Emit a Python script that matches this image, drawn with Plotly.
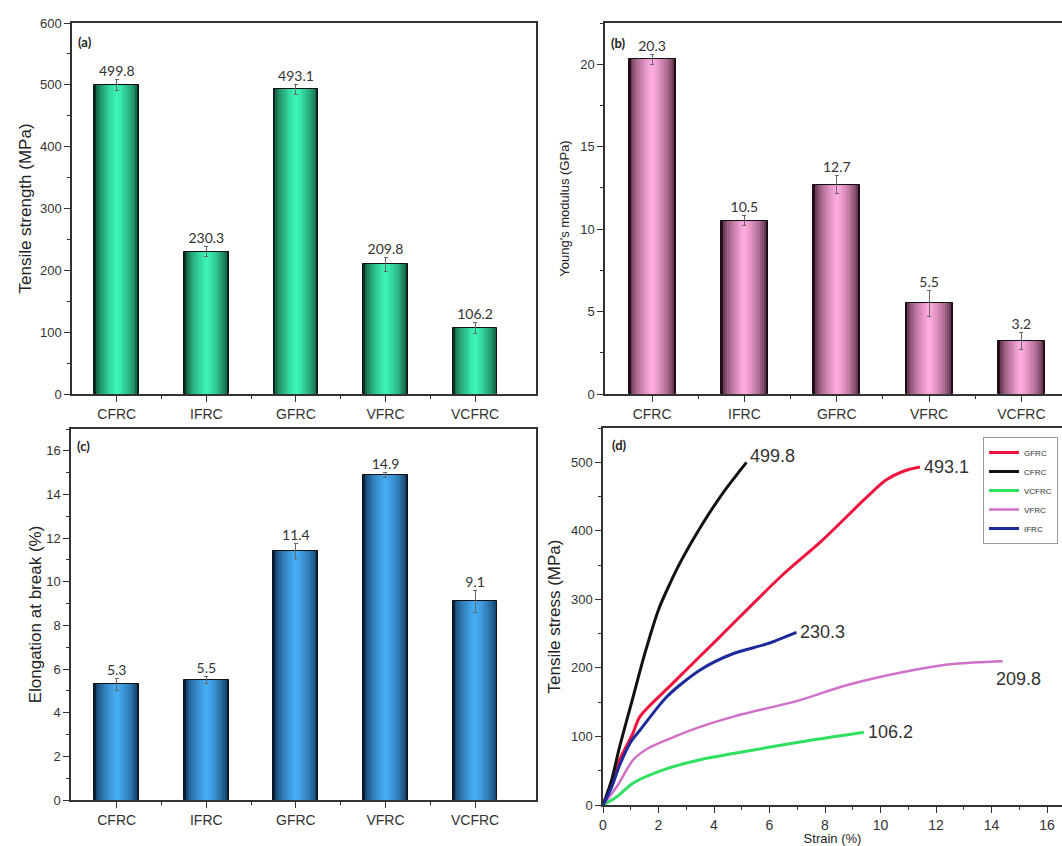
import plotly.graph_objects as go

# ---------------- data ----------------
categories = ["CFRC", "IFRC", "GFRC", "VFRC", "VCFRC"]
tensile_strength = [499.8, 230.3, 493.1, 209.8, 106.2]
tensile_err = [9, 8, 8, 11, 9]
youngs_modulus = [20.3, 10.5, 12.7, 5.5, 3.2]
youngs_err = [0.3, 0.3, 0.55, 0.8, 0.5]
elongation = [5.3, 5.5, 11.4, 14.9, 9.1]
elongation_err = [0.27, 0.15, 0.35, 0.1, 0.5]

# stress-strain curves (strain %, stress MPa)
gfrc_strain = [0, 0.3, 0.6, 1.08, 1.33, 2.5, 4.2, 6.4, 7.9, 9.4, 10.2, 10.9, 11.42]
gfrc_stress = [0, 30, 66, 105, 129, 177, 245, 333, 386, 445, 474, 488, 493.1]
cfrc_strain = [0, 0.3, 0.6, 1.1, 1.5, 2.0, 2.4, 2.8, 3.6, 4.3, 5.17]
cfrc_stress = [0, 35, 85, 160, 220, 285, 322, 355, 411, 454, 499.8]
vcfrc_strain = [0, 0.5, 1.09, 2.3, 3.5, 4.7, 7.1, 9.4]
vcfrc_stress = [0, 12, 32, 53, 66, 75, 92, 106.2]
vfrc_strain = [0, 0.5, 1.09, 1.6, 2.3, 3.5, 4.7, 7.1, 8.8, 11.2, 12.7, 14.4]
vfrc_stress = [0, 27, 66, 82, 95, 114, 129, 153, 175, 197, 206, 209.8]
ifrc_strain = [0, 0.3, 0.6, 1.0, 1.33, 2.3, 3.5, 4.7, 5.9, 6.97]
ifrc_stress = [0, 25, 58, 92, 109, 158, 197, 221, 235, 252]

# ---------------- helpers ----------------
W, H = 1062, 846
AX = "#333333"
TXT = "#333333"


def hex2rgb(h):
    h = h.lstrip("#")
    return tuple(int(h[i:i + 2], 16) for i in (0, 2, 4))


def mix(c1, c2, f):
    a, b = hex2rgb(c1), hex2rgb(c2)
    return "rgb(%d,%d,%d)" % tuple(round(a[i] + (b[i] - a[i]) * f) for i in range(3))


xpos = list(range(len(categories)))
fig = go.Figure()


def gradient_bars(vals, errs, dark, bright, xa, ya, width=0.5, n=12):
    for k in range(n):
        f = (k / (n - 1)) ** 0.5
        w = width * (1 - k / n)
        last = k == n - 1
        fig.add_trace(go.Bar(
            x=xpos, y=vals, width=w, xaxis=xa, yaxis=ya,
            marker=dict(color=mix(dark, bright, f),
                        line=dict(width=1 if k == 0 else 0, color="#111111")),
            showlegend=False, hoverinfo="skip" if not last else None,
            error_y=dict(type="data", array=errs, color="#666666",
                         thickness=1, width=2) if last else None,
        ))
    fig.add_trace(go.Scatter(
        x=xpos, y=[v + e for v, e in zip(vals, errs)], xaxis=xa, yaxis=ya,
        mode="text", text=["%.1f" % v for v in vals],
        textposition="top center",
        textfont=dict(family="Lato", size=14, color=TXT),
        showlegend=False, hoverinfo="skip"))


gradient_bars(tensile_strength, tensile_err, "#06301e", "#3cf5b4", "x", "y")
gradient_bars(youngs_modulus, youngs_err, "#2a0a1c", "#ffaade", "x2", "y2", width=0.51)
gradient_bars(elongation, elongation_err, "#061f3c", "#46acf4", "x3", "y3")

# ---------------- panel (d) curves ----------------
curves = [
    ("GFRC", gfrc_strain, gfrc_stress, "#f0143c", 3),
    ("CFRC", cfrc_strain, cfrc_stress, "#111111", 3),
    ("VCFRC", vcfrc_strain, vcfrc_stress, "#30e060", 3),
    ("VFRC", vfrc_strain, vfrc_stress, "#d070c8", 2.5),
    ("IFRC", ifrc_strain, ifrc_stress, "#1c2a9c", 3),
]
for name, sx, sy, col, lw in curves:
    fig.add_trace(go.Scatter(x=sx, y=sy, mode="lines", name=name,
                             line=dict(color=col, width=lw, shape="spline", smoothing=0.8),
                             xaxis="x4", yaxis="y4"))

# end-of-curve labels (values from tensile strength data)
end_labels = {
    "CFRC": dict(xshift=2, yshift=6, xanchor="left"),
    "GFRC": dict(xshift=2, yshift=0, xanchor="left"),
    "IFRC": dict(xshift=2, yshift=0, xanchor="left"),
    "VFRC": dict(xshift=16, yshift=-18, xanchor="center"),
    "VCFRC": dict(xshift=2, yshift=0, xanchor="left"),
}
for name, sx, sy, col, lw in curves:
    idx = categories.index(name)
    o = end_labels[name]
    fig.add_annotation(x=sx[-1], y=sy[-1], xref="x4", yref="y4",
                       text="%.1f" % tensile_strength[idx], showarrow=False,
                       xanchor=o["xanchor"], yanchor="middle",
                       xshift=o["xshift"], yshift=o["yshift"],
                       font=dict(family="Liberation Sans, Arial", size=18, color=TXT))

# panel letters
for lab, xr, yr, xv, yv in [("(a)", "x", "y", -0.46, 570), ("(b)", "x2", "y2", -0.47, 21.3),
                             ("(c)", "x3", "y3", -0.47, 16.2), ("(d)", "x4", "y4", 0.25, 525)]:
    fig.add_annotation(x=xv, y=yv, xref=xr, yref=yr, text="<b>%s</b>" % lab,
                       showarrow=False, xanchor="left", yanchor="middle",
                       font=dict(family="Lato", size=13, color="#222222"))


def px_x(a, b):
    return [a / W, min(b / W, 1.0)]


def px_y(top, bottom):
    return [(H - bottom) / H, (H - top) / H]


tickfont = dict(family="Liberation Sans, Arial", size=13, color=TXT)
catfont = dict(family="Liberation Sans, Arial", size=14, color=TXT)


def cat_xaxis(domain, anchor, rng):
    return dict(domain=domain, anchor=anchor, range=rng, tickmode="array",
                tickvals=xpos, ticktext=categories, tickfont=catfont, automargin=False,
                showline=True, linecolor=AX, linewidth=1.5, mirror=True,
                ticks="outside", ticklen=6, tickcolor=AX, showgrid=False, zeroline=False,
                minor=dict(tickvals=[i + 0.5 for i in xpos[:-1]], ticks="outside",
                           ticklen=3, tickcolor=AX))


def val_yaxis(domain, anchor, rng, dtick, mdtick, title, tsize, standoff, mirror=True):
    return dict(domain=domain, anchor=anchor, range=rng, dtick=dtick, tick0=0,
                tickfont=tickfont, showline=True, linecolor=AX, linewidth=1.5,
                mirror=mirror, ticks="outside", ticklen=6, tickcolor=AX,
                showgrid=False, zeroline=False, automargin=False,
                minor=dict(dtick=mdtick, tick0=0, ticks="outside", ticklen=3, tickcolor=AX),
                title=dict(text=title, standoff=standoff,
                           font=dict(family="Liberation Sans, Arial", size=tsize, color="#222222")))


fig.update_layout(
    width=W, height=H, margin=dict(l=0, r=0, t=0, b=0, autoexpand=False),
    paper_bgcolor="white", plot_bgcolor="white",
    barmode="overlay", bargap=0,
    xaxis=cat_xaxis(px_x(72, 536), "y", [-0.5, 4.68]),
    yaxis=val_yaxis(px_y(23, 394), "x", [0, 600], 100, 50, "Tensile strength (MPa)", 17, 4),
    xaxis2=cat_xaxis(px_x(605, 1062), "y2", [-0.51, 4.44]),
    yaxis2=val_yaxis(px_y(23, 394), "x2", [0, 22.5], 5, 2.5, "Young's modulus (GPa)", 13, 8),
    xaxis3=cat_xaxis(px_x(71, 536), "y3", [-0.51, 4.68]),
    yaxis3=val_yaxis(px_y(429, 800), "x3", [0, 17], 2, 1, "Elongation at break (%)", 17, 0),
    xaxis4=dict(domain=px_x(603, 1062), anchor="y4", range=[0, 16.54], dtick=2, tick0=0,
                tickfont=dict(family="Liberation Sans, Arial", size=14, color=TXT),
                showline=True, linecolor=AX, linewidth=1.5, mirror=True, automargin=False,
                ticks="outside", ticklen=6, tickcolor=AX, showgrid=False, zeroline=False,
                minor=dict(dtick=1, tick0=0, ticks="outside", ticklen=3, tickcolor=AX),
                title=dict(text="Strain (%)", standoff=0,
                           font=dict(family="Liberation Sans, Arial", size=13, color="#222222"))),
    yaxis4=val_yaxis(px_y(428, 805), "x4", [0, 550], 100, 50, "Tensile stress (MPa)", 17, 6,
                     mirror=False),
    legend=dict(x=1058 / W, y=(H - 437) / H, xanchor="right", yanchor="top",
                bgcolor="white", bordercolor="#999999", borderwidth=1,
                font=dict(family="Liberation Sans, Arial", size=8, color=TXT),
                itemwidth=30, tracegroupgap=0),
    showlegend=True,
)

fig.write_html("out.html")
